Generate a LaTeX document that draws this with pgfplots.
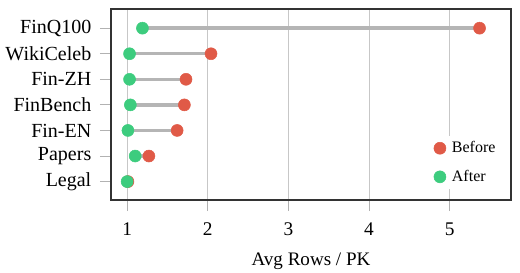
\documentclass[border=0pt]{standalone}
\usepackage{pgfplots}
\pgfplotsset{compat=1.18}
\usepackage{pgfplotstable}
\usepackage{fontspec}
\setmainfont{Liberation Serif}
\definecolor{cbefore}{HTML}{E05A47}
\definecolor{cafter}{HTML}{3DCC7E}
\definecolor{cline}{HTML}{B5B5B5}
\pgfplotstableread{
idx before after
0 1.01 1.00
1 1.27 1.10
2 1.62 1.01
3 1.71 1.04
4 1.73 1.03
5 2.04 1.03
6 5.37 1.19
}\datatable
\begin{document}
\begin{tikzpicture}
\useasboundingbox (-83.25pt,-54pt) rectangle (306.75pt,150pt);
\begin{axis}[
  at={(0,0)}, anchor=south west,
  scale only axis, width=300pt, height=143.25pt,
  xmin=0.8, xmax=5.76, ymin=-0.72, ymax=6.75,
  xtick={1,2,3,4,5},
  ytick={0,1,2,3,4,5,6},
  yticklabels={Legal,Papers,Fin-EN,FinBench,Fin-ZH,WikiCeleb,FinQ100},
  xtick pos=bottom, ytick pos=left,
  tick align=outside,
  major tick length=8.25pt,
  tick style={color=black!30, line width=0.7pt},
  xmajorgrids,
  grid style={color=black!22, line width=0.7pt},
  axis line style={color=black!80, line width=0.8pt},
  /pgf/number format/assume math mode=true,
  xticklabel style={font=\fontsize{14.5}{16}\selectfont, yshift=-5.5pt},
  yticklabel style={font=\fontsize{15}{17}\selectfont, xshift=-3pt},
  xlabel={Avg Rows / PK},
  xlabel style={font=\fontsize{14.3}{16}\selectfont, at={(axis description cs:0.5,0)}, anchor=center, yshift=-46.3pt},
  legend style={at={(0.80,0.335)}, anchor=north west, draw=none, fill=white,
    font=\fontsize{12}{14}\selectfont, row sep=7.5pt, inner sep=2pt,
    nodes={inner xsep=4.5pt}},
  legend cell align=left,
]
\addplot[cline, line width=2.6pt, forget plot] coordinates {(1.00,0) (1.01,0)};
\addplot[cline, line width=2.6pt, forget plot] coordinates {(1.10,1) (1.27,1)};
\addplot[cline, line width=2.6pt, forget plot] coordinates {(1.01,2) (1.62,2)};
\addplot[cline, line width=2.6pt, forget plot] coordinates {(1.04,3) (1.71,3)};
\addplot[cline, line width=2.6pt, forget plot] coordinates {(1.03,4) (1.73,4)};
\addplot[cline, line width=2.6pt, forget plot] coordinates {(1.03,5) (2.04,5)};
\addplot[cline, line width=2.6pt, forget plot] coordinates {(1.19,6) (5.37,6)};
\addplot[only marks, mark=*, mark size=4.5pt, color=cbefore] table[x=before, y=idx] {\datatable};
\addlegendentry{Before}
\addplot[only marks, mark=*, mark size=4.5pt, color=cafter] table[x=after, y=idx] {\datatable};
\addlegendentry{After}
\end{axis}
\end{tikzpicture}
\end{document}
